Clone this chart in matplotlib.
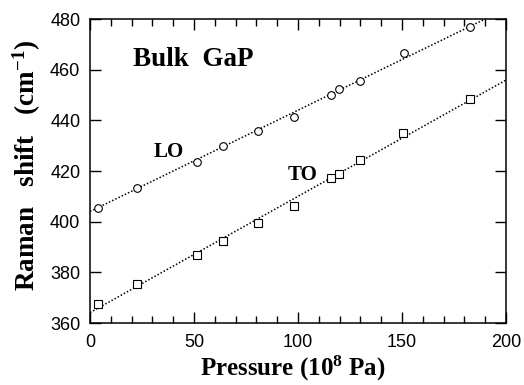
import numpy as np
import matplotlib
matplotlib.use('Agg')
import matplotlib.pyplot as plt
from matplotlib.ticker import MultipleLocator

# pressure (10^8 Pa) and Raman shift (cm-1)
p_lo = [3.7, 22.7, 51.6, 64.1, 80.8, 98.2, 115.7, 119.9, 129.8, 151.0, 182.7]
r_lo = [405.3, 413.4, 423.4, 429.9, 435.8, 441.2, 450.0, 452.3, 455.4, 466.5, 477.0]
p_to = [3.7, 22.7, 51.6, 64.1, 80.8, 98.2, 115.7, 119.9, 129.8, 150.6, 182.7]
r_to = [367.4, 375.3, 386.7, 392.5, 399.6, 406.2, 417.1, 418.8, 424.2, 435.1, 448.3]

# linear fits (intercept, slope)
fit_lo = [404.0, 0.40]
fit_to = [364.1, 0.459]

serif = 'Liberation Serif'
sans = 'Liberation Sans'
plt.rcParams['mathtext.fontset'] = 'custom'
for k in ['rm', 'it', 'bf']:
    plt.rcParams['mathtext.' + k] = 'Liberation Serif:bold'
plt.rcParams['mathtext.default'] = 'rm'

fig = plt.figure(figsize=(5.24, 3.85), dpi=100)
ax = fig.add_axes([90 / 524, 1 - 323 / 385, 416 / 524, 304 / 385])

xx = np.array([0, 200])
ax.plot(xx, fit_lo[0] + fit_lo[1] * xx, color='black', lw=1.1, ls=(0, (1, 1.3)))
ax.plot(xx, fit_to[0] + fit_to[1] * xx, color='black', lw=1.1, ls=(0, (1, 1.3)))
ax.plot(p_lo, r_lo, 'o', ms=5.5, mfc='white', mec='black', mew=0.8)
ax.plot(p_to, r_to, 's', ms=5.5, mfc='white', mec='black', mew=0.8)

ax.set_xlim(0, 200)
ax.set_ylim(360, 480)
ax.xaxis.set_major_locator(MultipleLocator(50))
ax.xaxis.set_minor_locator(MultipleLocator(10))
ax.yaxis.set_major_locator(MultipleLocator(20))
ax.tick_params(which='both', direction='in', top=True, right=True, width=1)
ax.tick_params(which='major', length=8, labelsize=13)
ax.tick_params(which='minor', length=5)
ax.tick_params(axis='x', pad=8)
ax.tick_params(axis='y', pad=7)
for lab in ax.get_xticklabels() + ax.get_yticklabels():
    lab.set_family(sans)
for s in ax.spines.values():
    s.set_linewidth(1.1)

fig.text(293 / 524, 1 - 376 / 385, 'Pressure (10$^{8}$ Pa)', family=serif, weight='bold',
         fontsize=18, ha='center', va='baseline')
fig.text(27 / 524, 1 - 165 / 385, 'Raman   shift   (cm$^{-1}$)', family=serif, weight='bold',
         fontsize=19.5, ha='center', va='center', rotation=90)

ax.text(20.5, 461.5, 'Bulk  GaP', family=serif, weight='bold', fontsize=19.5, va='baseline')
ax.text(30.4, 425.6, 'LO', family=serif, weight='bold', fontsize=15, va='baseline')
ax.text(95.0, 416.3, 'TO', family=serif, weight='bold', fontsize=15, va='baseline')

fig.savefig('out.png', dpi=100)
